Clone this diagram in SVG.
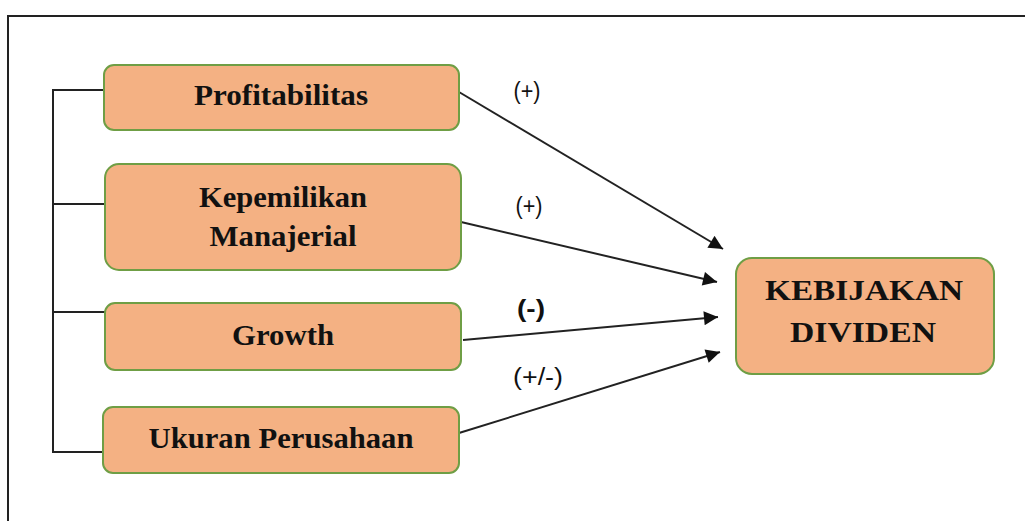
<svg xmlns="http://www.w3.org/2000/svg" width="1025" height="521" viewBox="0 0 1025 521">
<defs>
<style>
.box{fill:#F4B183;stroke:#6F9E45;stroke-width:2}
.t{font-family:"Liberation Serif","Times New Roman",serif;font-weight:bold;font-size:29px;fill:#111;text-anchor:middle}
.lbl{font-family:"Liberation Sans",Arial,sans-serif;font-size:23px;fill:#111;text-anchor:middle}
.ln{stroke:#222;stroke-width:2;fill:none}
.ar{stroke:#222;stroke-width:2;fill:none;marker-end:url(#ah)}
</style>
<marker id="ah" viewBox="0 0 10 10" refX="10" refY="5" markerWidth="16" markerHeight="14" markerUnits="userSpaceOnUse" orient="auto">
<path d="M0,0 L10,5 L0,10 Z" fill="#111"/>
</marker>
</defs>
<rect x="0" y="0" width="1025" height="521" fill="#fff"/>
<path d="M8,521 L8,16 L1025,16" fill="none" stroke="#222" stroke-width="2"/>
<g id="connectors">
<path class="ln" d="M104,90 L53,90 L53,452 L103,452 M53,204 L105,204 M53,312 L105,312"/>
<path class="ar" d="M459,92 L723,249"/>
<path class="ar" d="M461,222 L717,282"/>
<path class="ar" d="M463,340 L718,317"/>
<path class="ar" d="M459,433 L720,352"/>
<text class="lbl" x="527" y="99" textLength="27" lengthAdjust="spacingAndGlyphs">(+)</text>
<text class="lbl" x="529" y="214" textLength="27" lengthAdjust="spacingAndGlyphs">(+)</text>
<text class="lbl" x="531" y="317" font-weight="bold" textLength="28" lengthAdjust="spacingAndGlyphs">(-)</text>
<text class="lbl" x="538" y="385" textLength="50" lengthAdjust="spacingAndGlyphs">(+/-)</text>
</g>
<g id="profitabilitas">
<rect class="box" x="104" y="65" width="355" height="65" rx="10"/>
<text class="t" x="281" y="105" textLength="174" lengthAdjust="spacingAndGlyphs">Profitabilitas</text>
</g>
<g id="kepemilikan">
<rect class="box" x="105" y="164" width="356" height="106" rx="14"/>
<text class="t" x="283" y="207" textLength="168" lengthAdjust="spacingAndGlyphs">Kepemilikan</text>
<text class="t" x="283" y="246" textLength="147" lengthAdjust="spacingAndGlyphs">Manajerial</text>
</g>
<g id="growth">
<rect class="box" x="105" y="303" width="356" height="67" rx="10"/>
<text class="t" x="283" y="345" textLength="102" lengthAdjust="spacingAndGlyphs">Growth</text>
</g>
<g id="kebijakan">
<rect class="box" x="736" y="258" width="258" height="116" rx="16"/>
<text class="t" x="864" y="300" textLength="198" lengthAdjust="spacingAndGlyphs">KEBIJAKAN</text>
<text class="t" x="863" y="342" textLength="146" lengthAdjust="spacingAndGlyphs">DIVIDEN</text>
</g>
<g id="ukuran">
<rect class="box" x="103" y="407" width="356" height="66" rx="10"/>
<text class="t" x="281" y="448" textLength="265" lengthAdjust="spacingAndGlyphs">Ukuran Perusahaan</text>
</g>
</svg>
